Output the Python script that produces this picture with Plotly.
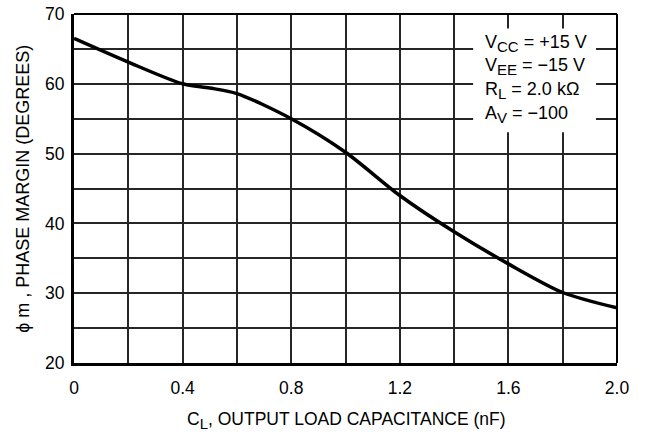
import plotly.graph_objects as go

# Data
cap_nf = [0, 0.2, 0.4, 0.5, 0.6, 0.8, 1.0, 1.2, 1.4, 1.6, 1.8, 2.0]
phase_margin = [66.5, 63.1, 60.0, 59.4, 58.6, 55.0, 50.2, 44.0, 38.8, 34.2, 30.1, 27.9]

x_ticks = [0, 0.4, 0.8, 1.2, 1.6, 2.0]
x_tick_labels = ["0", "0.4", "0.8", "1.2", "1.6", "2.0"]
y_ticks = [20, 30, 40, 50, 60, 70]

SUB = "<sub><span style='font-size:15px'>{}</span></sub>"
cond_lines = [
    "V" + SUB.format("CC") + " = +15 V",
    "V" + SUB.format("EE") + " = \u221215 V",
    "R" + SUB.format("L") + " = 2.0 k\u03a9",
    "A" + SUB.format("V") + " = \u2212100",
]

FONT = "Liberation Sans, Arial, sans-serif"
GRID = "#262626"

fig = go.Figure()
fig.add_trace(go.Scatter(
    x=cap_nf, y=phase_margin, mode="lines",
    line=dict(color="black", width=3.5, shape="spline", smoothing=0.8),
    showlegend=False, hoverinfo="skip",
))

W, H = 645, 436
L, R, T, B = 73.5, 28, 13.5, 73
pw, ph = W - L - R, H - T - B

def px_x(px):
    return (px - L) / pw

def px_y(py):
    return (H - B - py) / ph

fig.update_layout(
    width=W, height=H,
    margin=dict(l=L, r=R, t=T, b=B, pad=0, autoexpand=False),
    paper_bgcolor="white", plot_bgcolor="white",
    font=dict(family=FONT, size=17, color="black"),
    xaxis=dict(
        range=[0, 2.0], tickvals=x_ticks, ticktext=x_tick_labels,
        showgrid=True, gridcolor=GRID, gridwidth=1.6,
        minor=dict(dtick=0.2, showgrid=True, gridcolor=GRID, gridwidth=1.6),
        showline=True, linecolor="black", linewidth=3, mirror=False,
        zeroline=False, ticks="outside", ticklen=7, tickcolor="rgba(0,0,0,0)",
        tickfont=dict(size=17.5),
    ),
    yaxis=dict(
        range=[20, 70], tickvals=y_ticks,
        showgrid=True, gridcolor=GRID, gridwidth=1.6,
        minor=dict(dtick=5, showgrid=True, gridcolor=GRID, gridwidth=1.6),
        showline=True, linecolor="black", linewidth=3, mirror=False,
        zeroline=False, ticks="outside", ticklen=3, tickcolor="rgba(0,0,0,0)",
        tickfont=dict(size=17.5),
    ),
)

shapes = [
    dict(type="line", xref="paper", yref="paper", x0=0, x1=1, y0=1, y1=1,
         line=dict(color="black", width=2)),
    dict(type="line", xref="paper", yref="paper", x0=1, x1=1, y0=0, y1=1,
         line=dict(color="black", width=2)),
    dict(type="rect", xref="paper", yref="paper",
         x0=px_x(473), x1=px_x(596), y0=px_y(132), y1=px_y(28),
         fillcolor="white", line=dict(width=0), layer="above"),
]
fig.update_layout(shapes=shapes)

ann = []
line_y = [43, 66, 90, 114]
for txt, yy in zip(cond_lines, line_y):
    ann.append(dict(text=txt, xref="paper", yref="paper", x=px_x(483), y=px_y(yy),
                    xanchor="left", yanchor="middle", showarrow=False,
                    font=dict(size=18, family=FONT)))
ann.append(dict(text="C" + SUB.format("L") + ", OUTPUT LOAD CAPACITANCE (nF)",
                xref="paper", yref="paper", x=px_x(346), y=px_y(421),
                xanchor="center", yanchor="middle", showarrow=False,
                font=dict(size=17.5, family=FONT)))
ann.append(dict(text="\u03d5 m , PHASE MARGIN (DEGREES)",
                xref="paper", yref="paper", x=px_x(23), y=px_y(189),
                xanchor="center", yanchor="middle", textangle=-90, showarrow=False,
                font=dict(size=18, family=FONT)))
fig.update_layout(annotations=ann)

fig.write_html("out.html", config={"displayModeBar": False},
               post_script="document.body.style.margin='0';document.body.style.padding='0';")
